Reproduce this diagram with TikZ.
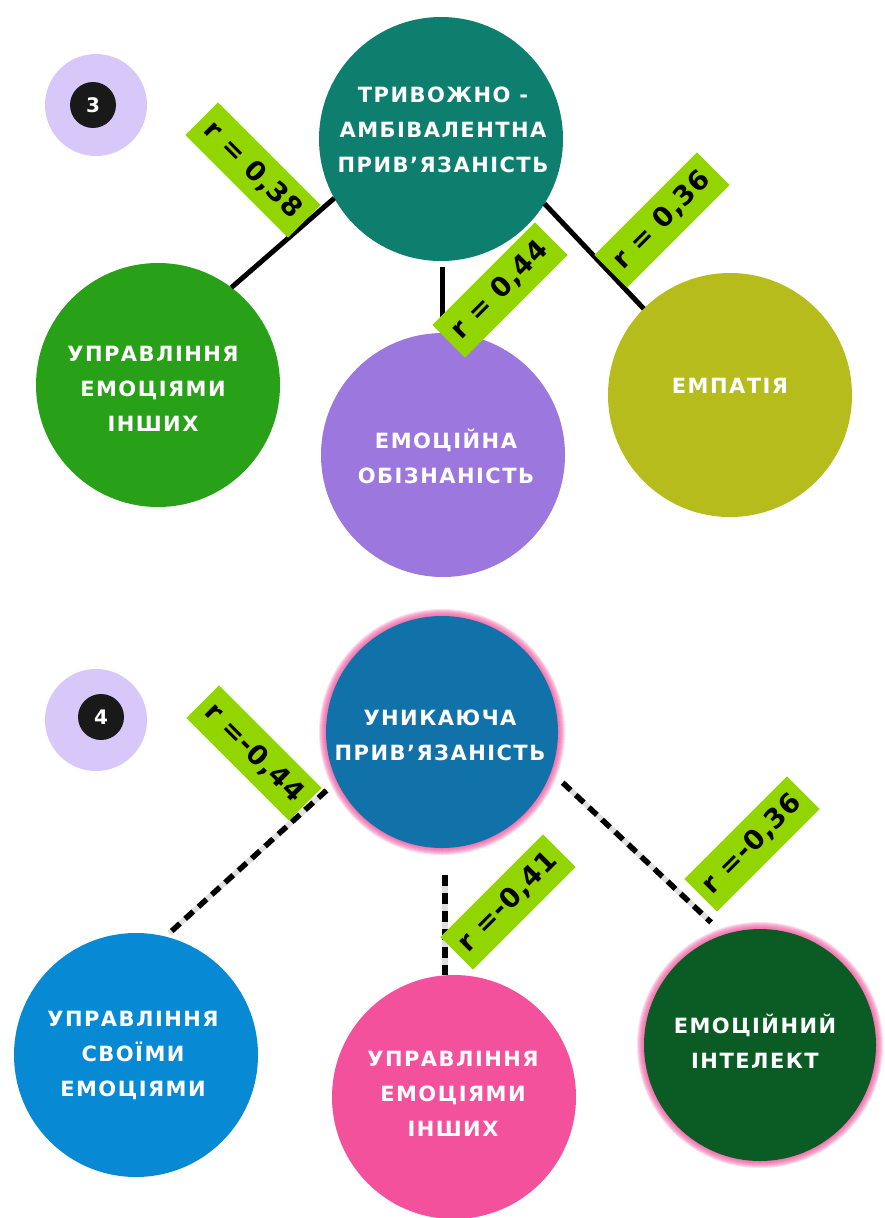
\documentclass[tikz,border=0pt]{standalone}
\usepackage{fontspec}
\newfontfamily\cf{DejaVu Sans}[LetterSpace=7]
\newfontfamily\lf{DejaVu Sans}[LetterSpace=3]
\newfontfamily\nf{DejaVu Sans}
\usetikzlibrary{calc}
\definecolor{lav}{HTML}{D8C8F9}
\definecolor{cteal}{HTML}{0E7F6F}
\definecolor{cgreen}{HTML}{28A119}
\definecolor{cpurple}{HTML}{9B77DE}
\definecolor{colive}{HTML}{B5BC1C}
\definecolor{cblue}{HTML}{1171A9}
\definecolor{clblue}{HTML}{078AD3}
\definecolor{cpink}{HTML}{F3519C}
\definecolor{cdgreen}{HTML}{0B5C24}
\definecolor{lbl}{HTML}{93D500}
\definecolor{glow}{HTML}{F0589F}
\begin{document}
\begin{tikzpicture}[x=1pt,y=-1pt,
  circ/.style={circle, minimum size=244pt, inner sep=0pt, outer sep=0pt},
  ctext/.style={text=white, align=center, inner sep=0pt, font=\cf\bfseries\fontsize{21}{35}\selectfont},
  corr/.style={fill=lbl, minimum width=145pt, minimum height=46pt, inner sep=0pt, font=\lf\bfseries\fontsize{27}{30}\selectfont},
  solidline/.style={line width=5pt, draw=black},
  dashline/.style={preaction={draw=gray!25, solid, line width=5.5pt}, draw=black, line width=5.5pt, dash pattern=on 11pt off 7pt},
  badge/.style={circle, fill=lav, minimum size=102pt, inner sep=0pt},
  num/.style={circle, fill=black!90, minimum size=46pt, inner sep=0pt, text=white, font=\nf\bfseries\fontsize{20}{20}\selectfont}
]
\useasboundingbox (0,0) rectangle (884,1218);
\fill[white] (0,0) rectangle (884,1218);

% ---------- panel 3 ----------
\node[badge] (b3) at (96,105) {};
\node[num] (n3) at (93,105) {3};

\node[circ, fill=cteal] (t3) at (441,139) {};
\node[circ, fill=cgreen] (g3) at (158,385) {};
\node[circ, fill=cpurple] (p3) at (443,455) {};
\node[circ, fill=colive] (o3) at (730,395) {};

\node[ctext] (t3txt) at (443,130) {ТРИВОЖНО -\\АМБІВАЛЕНТНА\\ПРИВ’ЯЗАНІСТЬ};
\node[ctext] (g3txt) at (153,389) {УПРАВЛІННЯ\\ЕМОЦІЯМИ\\ІНШИХ};
\node[ctext] (p3txt) at (446,456) {ЕМОЦІЙНА\\ОБІЗНАНІСТЬ};
\node[ctext] (o3txt) at (730,386) {ЕМПАТІЯ};

\coordinate (m3a) at ([shift={(1,6)}]t3.south);
\draw[solidline] (t3.209) -- (g3.53);
\draw[solidline] (m3a) -- (m3a |- p3.north);
\draw[solidline] (t3.-32) -- (o3.135);

\node[corr, rotate=-45] (l38) at (253,170) {r = 0,38};
\node[corr, rotate=45] (l44) at (500,290) {r = 0,44};
\node[corr, rotate=45] (l36) at (662,220) {r = 0,36};

% ---------- panel 4 ----------
\node[badge] (b4) at (96,720) {};
\node[num] (n4) at (101,717) {4};

\foreach \k in {0,...,9} {
  \fill[glow, opacity=0.2] (442,732) circle (114pt+\k pt);
  \fill[glow, opacity=0.2] (760,1045) circle (114pt+\k pt);
}
\node[circ, fill=cblue, minimum size=232pt] (t4) at (442,732) {};
\node[circ, fill=clblue] (lb4) at (136,1055) {};
\node[circ, fill=cpink] (p4) at (454,1097) {};
\node[circ, fill=cdgreen, minimum size=232pt] (dg4) at (760,1045) {};

\node[ctext] (t4txt) at (440,735) {УНИКАЮЧА\\ПРИВ’ЯЗАНІСТЬ};
\node[ctext] (lb4txt) at (133,1055) {УПРАВЛІННЯ\\СВОЇМИ\\ЕМОЦІЯМИ};
\node[ctext] (p4txt) at (453,1094) {УПРАВЛІННЯ\\ЕМОЦІЯМИ\\ІНШИХ};
\node[ctext] (dg4txt) at (755,1041) {ЕМОЦІЙНИЙ\\ІНТЕЛЕКТ};

\coordinate (m4a) at ([shift={(3,27)}]t4.south);
\draw[dashline, shorten <=14pt, shorten >=5pt] (t4.205) -- (lb4.76);
\draw[dashline] (m4a) -- (m4a |- p4.north);
\draw[dashline, shorten <=16pt, shorten >=18pt] (t4.-20) -- (dg4.108);

\node[corr, rotate=-45] (l44n) at (254,753) {r =-0,44};
\node[corr, rotate=45] (l41n) at (508,902) {r =-0,41};
\node[corr, rotate=45] (l36n) at (752,844) {r =-0,36};
\end{tikzpicture}
\end{document}
